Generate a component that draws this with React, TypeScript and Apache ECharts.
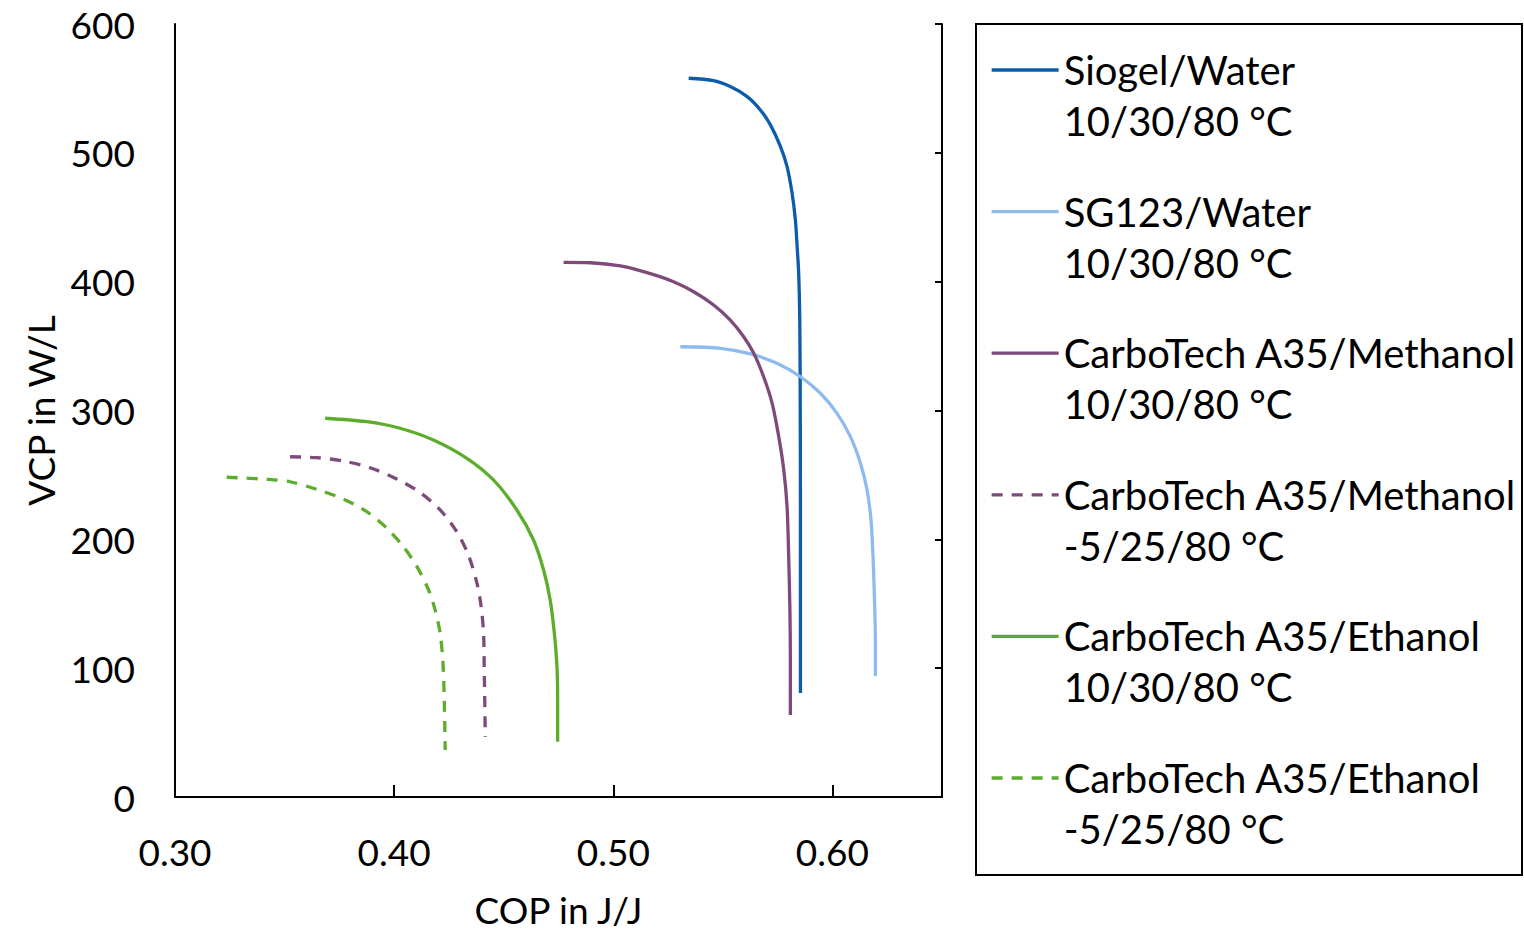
import React, { useEffect, useRef } from "react";
import * as echarts from "echarts";

// Axis ticks
const xTicks = [0.3, 0.4, 0.5, 0.6];
const yTicks = [0, 100, 200, 300, 400, 500, 600];

// Series names (legend)
const seriesNames = [
  "Siogel/Water\n10/30/80 °C",
  "SG123/Water\n10/30/80 °C",
  "CarboTech A35/Methanol\n10/30/80 °C",
  "CarboTech A35/Methanol\n-5/25/80 °C",
  "CarboTech A35/Ethanol\n10/30/80 °C",
  "CarboTech A35/Ethanol\n-5/25/80 °C",
];

// [COP, VCP]
const siogelWater = [
  [0.5344, 557.9], [0.5458, 556.0], [0.5534, 551.4], [0.5611, 543.6],
  [0.5671, 533.3], [0.5717, 521.7], [0.5763, 504.8], [0.5793, 489.3],
  [0.5816, 468.6], [0.5831, 447.8], [0.5839, 427.2], [0.5846, 406.5],
  [0.5851, 370.3], [0.5853, 308.2], [0.5854, 230.5], [0.5854, 152.9],
  [0.5854, 80.7],
];

const sg123Water = [
  [0.5306, 349.5], [0.5489, 348.3], [0.5626, 343.9], [0.5747, 336.6],
  [0.5854, 326.2], [0.5945, 313.4], [0.6021, 297.8], [0.6082, 279.7],
  [0.6128, 259.0], [0.6158, 238.3], [0.6176, 215.0], [0.6185, 187.8],
  [0.6192, 152.9], [0.6196, 121.9], [0.6196, 93.9],
];

const methanol103080 = [
  [0.4773, 415.0], [0.4895, 414.7], [0.5032, 412.2], [0.5154, 407.0],
  [0.5275, 400.0], [0.5367, 392.2], [0.5458, 381.9], [0.5534, 370.2],
  [0.5595, 357.3], [0.5641, 344.4], [0.5686, 326.2], [0.5725, 305.6],
  [0.5755, 279.7], [0.5778, 253.8], [0.5793, 225.3], [0.5800, 189.2],
  [0.5806, 145.2], [0.5808, 106.3], [0.5808, 63.6],
];

const methanol52580 = [
  [0.3525, 264.1], [0.3647, 263.4], [0.3768, 260.8], [0.3890, 255.6],
  [0.4012, 246.8], [0.4119, 236.2], [0.4210, 222.8], [0.4286, 205.9],
  [0.4339, 187.8], [0.4378, 165.9], [0.4397, 147.7], [0.4408, 127.1],
  [0.4411, 101.1], [0.4416, 46.8],
];

const ethanol103080 = [
  [0.3685, 294.0], [0.3875, 291.3], [0.4027, 286.2], [0.4179, 277.1],
  [0.4332, 262.9], [0.4453, 246.1], [0.4560, 222.8], [0.4636, 199.5],
  [0.4682, 176.2], [0.4712, 152.9], [0.4731, 127.1], [0.4743, 101.2],
  [0.4746, 75.3], [0.4746, 42.9],
];

const ethanol52580 = [
  [0.3236, 248.2], [0.3419, 246.6], [0.3525, 244.7], [0.3647, 238.8],
  [0.3768, 231.3], [0.3875, 221.5], [0.3967, 208.6], [0.4042, 194.3],
  [0.4104, 178.8], [0.4157, 160.7], [0.4187, 145.2], [0.4210, 127.1],
  [0.4222, 106.3], [0.4228, 80.5], [0.4233, 36.5],
];

const seriesData = [
  siogelWater,
  sg123Water,
  methanol103080,
  methanol52580,
  ethanol103080,
  ethanol52580,
];

const colors = ["#0b5cab", "#8dbbef", "#7d4a79", "#7d4a79", "#5cad2c", "#5cad2c"];
const dashed = [false, false, false, true, false, true];

const FONT = "Lato";

export default function App() {
  const ref = useRef<HTMLDivElement>(null);

  useEffect(() => {
    if (!ref.current) return;
    const chart = echarts.init(ref.current, null, { renderer: "svg" });

    const axisLine = { show: true, lineStyle: { color: "#000", width: 2 } };

    const option: any = {
      animation: false,
      backgroundColor: "#fff",
      grid: {
        left: 175,
        right: 582,
        top: 24,
        bottom: 133,
        containLabel: false,
        outerBoundsMode: "none",
      },
      xAxis: [
        {
          type: "value",
          position: "bottom",
          min: xTicks[0],
          max: 0.65,
          interval: 0.1,
          axisLine,
          axisTick: { show: true, inside: true, length: 12, lineStyle: { color: "#000", width: 2 } },
          splitLine: { show: false },
          axisLabel: {
            margin: 36,
            fontFamily: FONT,
            fontSize: 37,
            color: "#000",
            showMaxLabel: false,
            formatter: (v: number) =>
              xTicks.some((t) => Math.abs(t - v) < 1e-9) ? v.toFixed(2) : "",
          },
          name: "COP in J/J",
          nameLocation: "middle",
          nameGap: 97,
          nameTextStyle: { fontFamily: FONT, fontSize: 37, lineHeight: 30, color: "#000" },
        },
        {
          type: "value",
          position: "top",
          min: xTicks[0],
          max: 0.65,
          interval: 0.1,
          axisLine,
          axisTick: { show: false },
          axisLabel: { show: false },
          splitLine: { show: false },
        },
      ],
      yAxis: [
        {
          type: "value",
          position: "left",
          min: yTicks[0],
          max: yTicks[yTicks.length - 1],
          interval: 100,
          axisLine,
          axisTick: { show: false },
          splitLine: { show: false },
          axisLabel: {
            margin: 40,
            fontFamily: FONT,
            fontSize: 37,
            color: "#000",
          },
          name: "VCP in W/L",
          nameLocation: "middle",
          nameGap: 116,
          nameTextStyle: { fontFamily: FONT, fontSize: 37, color: "#000" },
        },
        {
          type: "value",
          position: "right",
          min: yTicks[0],
          max: yTicks[yTicks.length - 1],
          interval: 100,
          axisLine,
          axisTick: { show: true, inside: true, length: 7, lineStyle: { color: "#000", width: 2 } },
          axisLabel: { show: false },
          splitLine: { show: false },
        },
      ],
      legend: {
        orient: "vertical",
        left: 990,
        top: -6.5,
        padding: 0,
        itemWidth: 67,
        itemHeight: 14,
        itemGap: -11.4,
        selectedMode: false,
        data: seriesNames,
        formatter: (name: string) => "\n" + name,
        itemStyle: { opacity: 0 },
        lineStyle: { width: 3.3 },
        textStyle: {
          fontFamily: FONT,
          fontSize: 40,
          lineHeight: 51,
          color: "#000",
        },
      },
      graphic: [
        {
          type: "rect",
          shape: { x: 976, y: 24, width: 546, height: 851 },
          style: { fill: "none", stroke: "#000", lineWidth: 2 },
          silent: true,
        },
      ],
      series: seriesNames.map((name, i) => ({
        name,
        type: "line",
        xAxisIndex: 0,
        yAxisIndex: 0,
        data: seriesData[i],
        symbol: "none",
        showSymbol: false,
        smooth: 0.3,
        color: colors[i],
        lineStyle: {
          color: colors[i],
          width: 3.3,
          type: dashed[i] ? [11, 9] : "solid",
        },
        emphasis: { disabled: true },
      })),
    };

    chart.setOption(option);
    return () => chart.dispose();
  }, []);

  return (
    <div
      ref={ref}
      style={{ position: "absolute", left: 0, top: 0, width: 1524, height: 930 }}
    />
  );
}
